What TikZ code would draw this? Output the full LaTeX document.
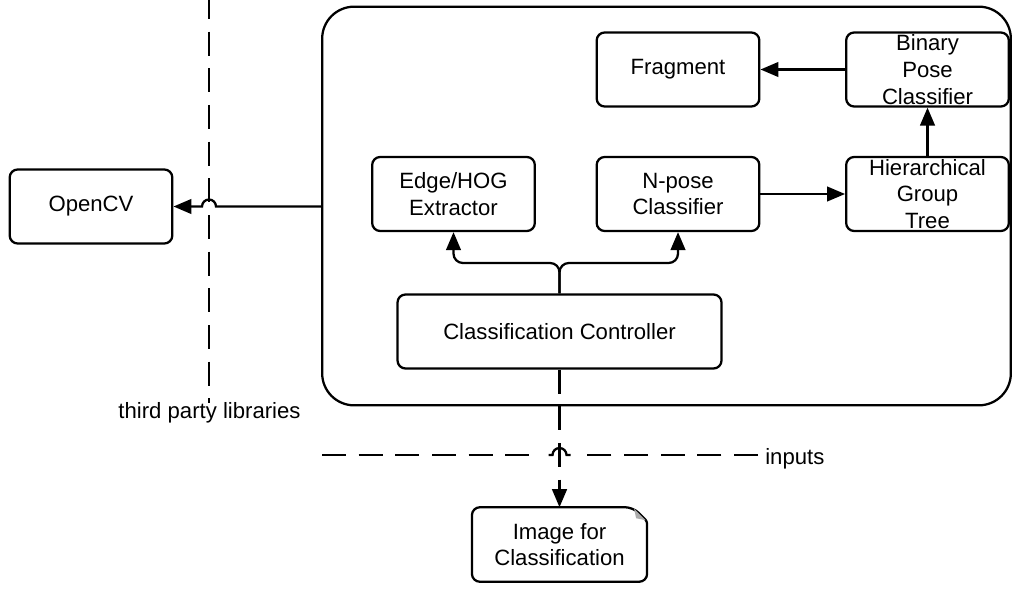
\documentclass[tikz,border=0pt]{standalone}
\usepackage{fontspec}
\setmainfont{Liberation Sans}
\usetikzlibrary{arrows.meta,calc}
\tikzset{
  lbl/.style={font=\fontsize{16.6pt}{20pt}\selectfont, align=center},
  box/.style={lbl, draw, line width=1.7pt, rounded corners=6pt,
    minimum width=122pt, minimum height=55.5pt, inner sep=0pt},
  conn/.style={line width=1.7pt},
  arr/.style={conn, -{Triangle[length=13.5pt,width=11pt]}},
  longdash/.style={dash pattern=on 18pt off 9.5pt},
}
\begin{document}
\begin{tikzpicture}[x=0.75pt, y=-0.75pt]
\useasboundingbox (0,0) rectangle (1012,588);

% system boundary
\node[draw, line width=1.7pt, rounded corners=24pt, minimum width=516.5pt,
      minimum height=299pt, inner sep=0pt] (sys) at (666.5,206) {};

% components
\node[box] (frag)  at (678,69.5)   {Fragment};
\node[box] (bpc)   at (927.5,69.5) {Binary\\Pose\\Classifier};
\node[box] (edge)  at (453.5,194)  {Edge/HOG\\Extractor};
\node[box] (npose) at (678,194)    {N-pose\\Classifier};
\node[box] (hgt)   at (927.5,194)  {Hierarchical\\Group\\Tree};
\node[box, minimum width=243pt] (ctrl) at (559.5,331.5) {Classification Controller};
\node[box] (opencv) at (91,206.5)  {OpenCV};

% input document with folded corner
\node[lbl, minimum width=131pt, minimum height=55.5pt, inner sep=0pt]
  (img) at (559.5,544.5) {Image for\\Classification};
\draw[line width=1.7pt, rounded corners=6pt]
  (img.north west) -- ($(img.north east)+(-14,0)$)
  [rounded corners=2pt] -- ($(img.north east)+(0,14)$)
  [rounded corners=6pt] -- (img.south east) -- (img.south west) -- cycle;
\fill[gray!65] ($(img.north east)+(-13,1.5)$) -- ($(img.north east)+(-1.5,13)$)
  -- ($(img.north east)+(-11,11)$) -- cycle;

% boundary lines
\coordinate (tpltop) at (209,-5);
\coordinate (tplbot) at (209,432);
\coordinate (inl) at (322,455);
\coordinate (inr) at (758,455);
\draw[conn, longdash] (tpltop) -- (tplbot);
\node[lbl, fill=white, inner sep=0pt] (tpl) at (209.5,413) {third party libraries};
\draw[conn, longdash] (inl) -- ($(ctrl.south |- inl)+(-22,0)$);
\draw[conn] ($(ctrl.south |- inl)+(-11,0)$) -- ($(ctrl.south |- inl)+(-7,0)$)
  arc[start angle=180, end angle=0, radius=5.25pt] -- ($(ctrl.south |- inl)+(11,0)$);
\draw[conn, longdash] (inr) -- ($(ctrl.south |- inl)+(24,0)$);
\node[lbl, anchor=west, inner sep=0pt] (inputs) at (765,459) {inputs};

% connectors
\draw[arr] (bpc.west) -- (frag.east);
\draw[arr] (hgt.north) -- (bpc.south);
\draw[arr] (npose.east) -- (hgt.west);
\coordinate (fork) at (559.5,263);
\draw[arr, rounded corners=7pt] (ctrl.north) -- (fork) -| (edge.south);
\draw[arr, rounded corners=7pt] (ctrl.north) -- (fork) -| (npose.south);
\draw[arr] (sys.west |- opencv.east) -- ($(tpltop |- opencv.east)+(7,0)$)
  arc[start angle=0, end angle=180, radius=5.25pt] -- (opencv.east);
\draw[arr, longdash] (ctrl.south) -- (img.north);
\end{tikzpicture}
\end{document}
